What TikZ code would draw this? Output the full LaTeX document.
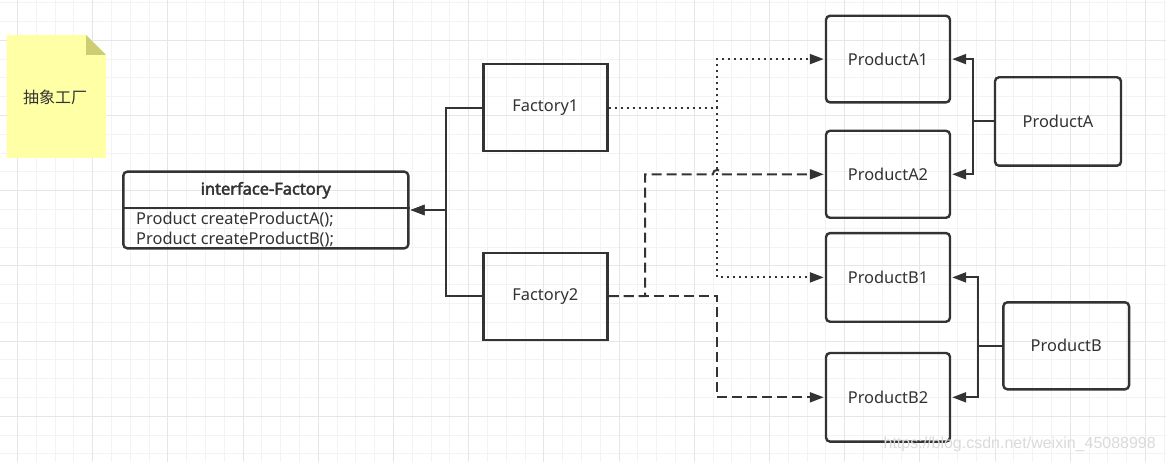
\documentclass[tikz,border=0pt]{standalone}
\usepackage{fontspec}
\setmainfont{Noto Sans}[AutoFakeBold=2.5]
\newfontfamily\cjk{Noto Sans CJK SC}
\newfontfamily\wmfont{Liberation Sans}
\usetikzlibrary{arrows.meta}
\definecolor{ink}{HTML}{333333}
\definecolor{gridminor}{HTML}{F3F3F3}
\definecolor{gridmajor}{HTML}{E6E6E6}
\definecolor{notefill}{HTML}{FFFFA6}
\definecolor{notefold}{HTML}{CDCD73}
\definecolor{wm}{HTML}{DADADA}
\begin{document}
\begin{tikzpicture}[x=1pt,y=-1pt,
  txt/.style={text=ink,font=\fontsize{16.4}{19}\selectfont},
  pbox/.style={txt,draw=ink,line width=2.4pt,rounded corners=4pt,minimum width=124pt,minimum height=87pt,inner sep=0pt},
  fbox/.style={pbox,rounded corners=0pt},
  conn/.style={draw=ink,line width=2pt},
  tip/.style={-{Triangle[length=14pt,width=10pt]},shorten >=1pt},
  dots/.style={conn,dash pattern=on 2pt off 4pt},
  dashes/.style={conn,dash pattern=on 10pt off 5pt}
]
\useasboundingbox (0,0) rectangle (1166,462);
\fill[white] (0,0) rectangle (1166,462);
% grid
\foreach \i in {0,...,62} {
  \pgfmathsetmacro{\gx}{-1.3+18.8*\i}
  \draw[gridminor,line width=1pt] (\gx,0) -- (\gx,462);
}
\foreach \i in {0,...,25} {
  \pgfmathsetmacro{\gy}{2.7+18.8*\i}
  \draw[gridminor,line width=1pt] (0,\gy) -- (1166,\gy);
}
\foreach \i in {0,...,15} {
  \pgfmathsetmacro{\gx}{17.5+75.2*\i}
  \draw[gridmajor,line width=1pt] (\gx,0) -- (\gx,462);
}
\foreach \i in {0,...,6} {
  \pgfmathsetmacro{\gy}{40.3+75.2*\i}
  \draw[gridmajor,line width=1pt] (0,\gy) -- (1166,\gy);
}
% note
\fill[notefill] (6.7,35) -- (86,35) -- (106,55) -- (106,158) -- (6.7,158) -- cycle;
\fill[notefold] (86,35) -- (86,55) -- (106,55) -- cycle;
\node[txt,font=\cjk\fontsize{16}{19}\selectfont] (note) at (55,97.7) {抽象工厂};
% interface
\node[draw=ink,line width=2.4pt,rounded corners=4pt,minimum width=285pt,minimum height=76.6pt,inner sep=0pt] (iface) at (265.8,210) {};
\draw[ink,line width=2pt] (iface.west |- 0,208.3) -- (iface.east |- 0,208.3);
\node[txt,font=\bfseries\fontsize{16.4}{19}\selectfont] (ititle) at (265.8,190.3) {interface-Factory};
\node[txt,anchor=base west,inner sep=0pt] (m1) at (136,225) {Product createProductA();};
\node[txt,anchor=base west,inner sep=0pt] (m2) at (136,244) {Product createProductB();};
% factories
\node[fbox] (f1) at (545.3,107.7) {Factory1};
\node[fbox] (f2) at (545.3,296.2) {Factory2};
% products
\node[pbox,minimum height=86.6pt] (pa1) at (888,59.1) {ProductA1};
\node[pbox] (pa2) at (888,174.3) {ProductA2};
\node[pbox,minimum height=88.6pt] (pb1) at (888,277.4) {ProductB1};
\node[pbox,minimum height=88.6pt] (pb2) at (888,397.3) {ProductB2};
\node[pbox,minimum width=126pt,minimum height=88.4pt] (pA) at (1058,121.5) {ProductA};
\node[pbox,minimum width=125.7pt,minimum height=87pt] (pB) at (1066.2,345.8) {ProductB};
% junction coordinates
\coordinate (jf) at (446,0);
\coordinate (jd1) at (717.3,0);
\coordinate (jd2) at (645,0);
\coordinate (ja) at (973.3,0);
\coordinate (jb) at (977.7,0);
% factories to interface
\draw[conn,tip] (f1.west) -- (f1.west -| jf) |- (iface.east);
\draw[conn,tip] (f2.west) -- (f2.west -| jf) |- (iface.east);
% Factory1 dotted
\draw[dots,tip] (f1.east) -- (f1.east -| jd1) |- (pa1.west);
\draw[dots,tip] (f1.east) -- (f1.east -| jd1) |- (pb1.west);
% Factory2 dashed
\draw[dashes,tip] (f2.east) -- (f2.east -| jd2) -- (jd2 |- pa2.west) -- ([xshift=-4.5pt]jd1 |- pa2.west) arc[start angle=180,end angle=360,radius=4.5] -- (pa2.west);
\draw[dashes,tip] (f2.east) -- (f2.east -| jd1) |- (pb2.west);
% product families
\draw[conn,tip] (pA.west) -- (pA.west -| ja) |- (pa1.east);
\draw[conn,tip] (pA.west) -- (pA.west -| ja) |- (pa2.east);
\draw[conn,tip] (pB.west) -- (pB.west -| jb) |- (pb1.east);
\draw[conn,tip] (pB.west) -- (pB.west -| jb) |- (pb2.east);
% watermark
\node[anchor=base east,inner sep=0pt,text=wm,font=\wmfont\fontsize{16}{19}\selectfont] (wmark) at (1156,448) {https://blog.csdn.net/weixin\_45088998};
\end{tikzpicture}
\end{document}
